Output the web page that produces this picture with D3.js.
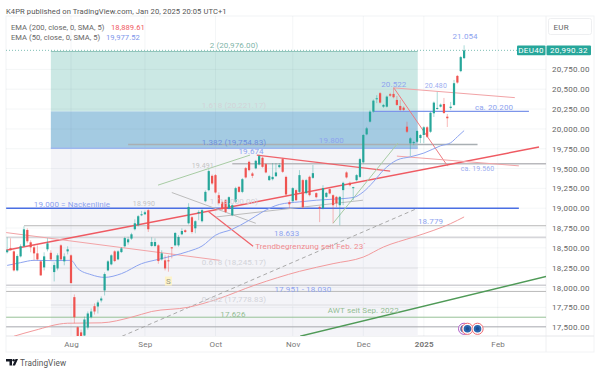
<!DOCTYPE html>
<html>
<head>
<meta charset="utf-8">
<script src="https://cdn.jsdelivr.net/npm/d3@7"></script>
<style>
html, body { margin: 0; padding: 0; background: #fff; }
svg { display: block; font-family: "Roboto", sans-serif; }
</style>
</head>
<body>
<div id="chart"></div>
<script>
// daily candles, first one is 19 bars before Aug 1
const firstBar = -19;
const opens = [18445,18495,18456,18216,18393,18520,18726,18570,18507,18431,18330,18254,18482,18438,18195,18241,18532,18330,18456,18406,17879,17500,17435,17395,17496,17626,17765,17761,17837,17963,18216,18292,18456,18355,18447,18520,18570,18617,18735,18785,18911,18924,18975,18524,18524,18532,18355,18343,18343,18507,18532,18532,18671,18722,18810,18886,18747,18937,18836,19088,19228,19408,19417,19164,19076,19101,19000,18911,19080,19269,19206,19505,19585,19438,19502,19552,19636,19556,19354,19366,19404,19518,19619,19395,19076,19088,19228,19206,19354,19190,19396,19383,19190,19016,19000,19143,19240,19164,19143,19038,19228,19451,19320,19253,19354,19395,19578,19931,20091,20217,20374,20450,20280,20280,20437,20441,20365,20289,20268,20028,19818,19821,19838,19885,19923,20020,19964,20197,20251,20280,20314,20154,20264,20302,20668,20728,20892];
const highs = [18633,18620,18469,18418,18545,18772,18747,18595,18532,18532,18340,18444,18621,18470,18317,18431,18545,18431,18520,18418,17913,17510,17470,17635,17698,17736,17800,17837,17888,18191,18345,18420,18470,18470,18510,18640,18640,18690,18860,18915,18966,18970,18990,18633,18620,18545,18470,18406,18406,18510,18700,18660,18747,18735,19063,18900,18848,18975,18990,19225,19491,19425,19430,19200,19095,19115,19150,19050,19270,19280,19380,19520,19600,19455,19610,19674,19650,19570,19420,19570,19570,19570,19635,19410,19100,19265,19240,19480,19370,19370,19410,19545,19200,19030,19290,19205,19250,19175,19155,19155,19335,19465,19335,19270,19430,19635,19935,20025,20235,20370,20425,20465,20315,20420,20455,20522,20415,20365,20285,20091,19895,19850,19985,19935,20035,20035,20215,20345,20466,20320,20390,20188,20340,20617,20680,20920,21054];
const lows = [18430,18470,18203,18203,18380,18510,18558,18444,18343,18343,18150,18216,18456,18343,18077,18216,18343,18280,18418,18052,17550,17360,17360,17330,17470,17610,17660,17673,17812,17900,18205,18280,18320,18345,18435,18505,18540,18600,18720,18770,18900,18915,18700,18515,18510,18300,18340,18216,18200,18368,18520,18515,18660,18690,18795,18680,18684,18848,18820,19075,19215,19295,19185,19050,18975,18940,18985,18900,19065,19195,19190,19375,19465,19380,19490,19540,19510,19440,19345,19350,19395,19505,19445,19150,19000,19075,19090,19190,18990,19175,19150,19370,19125,18825,18985,19130,19175,18810,19013,18785,19038,19375,19275,19100,19340,19380,19560,19920,20080,20205,20325,20320,20265,20270,20405,20385,20290,20225,20225,19948,19657,19795,19825,19820,19820,19885,19950,20150,20240,20270,20188,20024,20240,20290,20570,20715,20880];
const closes = [18470,18470,18216,18397,18520,18734,18583,18507,18431,18355,18153,18393,18557,18355,18283,18406,18355,18393,18482,18056,17626,17380,17380,17597,17673,17698,17698,17812,17862,18170,18330,18406,18334,18456,18494,18624,18608,18671,18810,18899,18924,18949,18735,18574,18574,18334,18431,18241,18330,18494,18688,18637,18713,18700,19016,18700,18836,18953,18975,19206,19468,19312,19198,19063,18996,18953,19139,19038,19253,19206,19366,19388,19480,19408,19598,19657,19522,19451,19404,19395,19451,19543,19459,19173,19050,19253,19101,19417,19013,19354,19165,19442,19139,18996,19253,19193,19186,19038,19063,19143,19320,19388,19290,19265,19417,19619,19923,20007,20217,20356,20386,20331,20302,20407,20419,20399,20302,20239,20239,19964,19881,19834,19973,19923,20020,19901,20204,20331,20264,20306,20201,20134,20280,20576,20584,20905,20990];

const ema50Bars = [-19,-15,-11,-5,0,2,6,10,15,21,26,30,35,39,43,48,53,57,62,68,73,78,84,87,90,93,97,101,105,110,113,115,117];
const ema50Values = [18279,18314,18343,18339,18343,18241,18162,18128,18175,18301,18355,18397,18456,18523,18659,18735,18848,18953,19047,19080,19101,19114,19135,19206,19332,19480,19607,19648,19695,19787,19825,19901,19978];
const ema200Bars = [-17,-11,-1,9,18,24,35,43,55,68,78,87,93,102,108,113,117];
const ema200Values = [17386,17458,17550,17555,17626,17698,17752,17846,18035,18204,18301,18384,18511,18637,18722,18806,18890];

const priceTicks = [17500,17750,18000,18250,18500,18750,19000,19250,19500,19750,20000,20250,20500,20750];
const timeBars = [0,22,43,66,87,105,127];
const timeLabels = ["Aug","Sep","Oct","Nov","Dec","2025","Feb"];

// [name, price, from bar, to bar]
const levels = [
  ["lvl19800",19803,17,121],
  ["lvl19560",19560,48,141.4],
  ["neck",19000,-19.3,133.3],
  ["lvl20200",20220,90.2,136.3],
  ["lvl18779",18779,-14,141.4],
  ["lvl18633",18633,-19.3,141.4],
  ["lvl18030",18030,-19.3,141.4],
  ["lvl17951",17951,-19.3,141.4],
  ["lvl17626",17626,-19.3,141.4],
  ["lvl17505",17505,-19.3,141.4]
];
// [name, bar, price, bar, price]
const trends = [
  ["redThick",-19.3,18469,139.3,19771],
  ["awt",68.2,17386,141.4,18140],
  ["red",55.3,19670,95,19468],
  ["red",40.8,18962,54.2,18520],
  ["redLight",-19.3,18693,44.3,18343],
  ["greenThin",25.9,19291,53.3,19670],
  ["grayThin",30,19198,55,18810],
  ["grayThin",43.2,18890,86.9,19101],
  ["greenThin",78,18810,97.3,19821],
  ["dashed",15.2,17386,103.2,19000],
  ["redMid",96.1,20517,112.1,19531],
  ["redLight",96.1,20517,132.1,20394],
  ["redLight",97,19657,133.3,19534]
];
const fibBars = [-6,103.2];
const fibBands = [["teal",20976,20221],["blue",20221,19755],["gray",19755,17250]];
const fibLines = [["fibFaint",18245],["fibFaint",17779]];
// [text, bar, price, style]
const labels = [
  ["2 (20,976.00)",48.5,21025,"fibTeal"],
  ["1.618 (20,221.17)",48.5,20268,"fibGray"],
  ["1.382 (19,754.83)",48.5,19796,"fibBlue"],
  ["1 (19,000.00)",48.5,19057,"fibGray"],
  ["0.618 (18,245.17)",48.5,18283,"fibGray"],
  ["0.382 (17,778.83)",48.5,17816,"fibGray"],
  ["19.800",77.5,19820,"blue"],
  ["ca. 19.560",121,19465,"blueSmall"],
  ["19.000 = Nackenlinie",0.3,19015,"blue"],
  ["ca. 20.200",125.9,20239,"blue"],
  ["18.779",107,18806,"blue"],
  ["18.633",64.2,18650,"blue"],
  ["17.951 - 18.030",69,17945,"blue"],
  ["17.626",48.2,17630,"green"],
  ["AWT seit Sep. 2022",87,17676,"green"],
  ["Trendbegrenzung seit Feb. 23´",71.3,18485,"red"],
  ["19.491",39.2,19505,"gray"],
  ["19.674",53.6,19678,"blue"],
  ["18.990",21.7,19030,"gray"],
  ["20.522",96.1,20533,"blue"],
  ["20.480",108.6,20519,"blueSmall"],
  ["21.054",117.3,21127,"blue"]
];
const lastPrice = 20990.32;
const ema200Last = "18,889.61";
const ema50Last = "19,977.52";
const eventBars = [117,118,121];

const width = 600, height = 374;
const plotL = 6, plotR = 546, plotT = 16, plotB = 336;

const x = d3.scaleLinear().domain([0,117]).range([71,464.1]);
const y = d3.scaleLinear().domain([17500,20750]).range([327.2,69.4]);

const fontS = {
  fibTeal: ["#7fb5a9", 8], fibGray: ["#d2d3d8", 8], fibBlue: ["#6d8fe0", 8],
  blue: ["#8ea3ef", 8], blueSmall: ["#9cadf0", 7], green: ["#93bd93", 8],
  red: ["#f08a8e", 8], gray: ["#c4c4c4", 7]
};
const lineS = {
  lvl19800: ["#a9afb3",1.5], lvl19560: ["#b9b9bd",1.6], neck: ["#4a6fe3",1.4], lvl20200: ["#7d95ea",1.2],
  lvl18779: ["#b7b7b7",1], lvl18633: ["#d6d6da",1.6], lvl18030: ["#b9b9c0",1], lvl17951: ["#b9b9b9",1],
  lvl17626: ["#96c196",1], lvl17505: ["#adadb3",1],
  redThick: ["#ef5a62",1.5], awt: ["#4f9a57",1.4], red: ["#ef636a",1.2], redMid: ["#ee7a80",1],
  redLight: ["#f2a3a6",1], greenThin: ["#a8cca4",1], grayThin: ["#bcbcbc",1], dashed: ["#aaaaaa",1],
  fibFaint: ["#e6e6ea",1.5]
};
const bandFill = { teal: "#cbe8e4", blue: "#a4cbe2", gray: "#f4f4f8" };

const svg = d3.select("#chart").append("svg").attr("width", width).attr("height", height);
svg.append("rect").attr("width", width).attr("height", height).attr("fill", "#fff");

svg.append("text").attr("x", 6).attr("y", 13.5).attr("font-size", 7.6).attr("letter-spacing", 0.08).attr("fill", "#555")
  .text("K4PR published on TradingView.com, Jan 20, 2025 20:05 UTC+1");

// frame
svg.append("rect").attr("x", plotL).attr("y", plotT).attr("width", 588).attr("height", 336)
  .attr("fill", "none").attr("stroke", "#f2f3f5");
svg.append("line").attr("x1", plotR).attr("x2", plotR).attr("y1", plotT).attr("y2", 352).attr("stroke", "#eff0f2");
svg.append("line").attr("x1", plotL).attr("x2", 594).attr("y1", plotB).attr("y2", plotB).attr("stroke", "#e6e7ea");

const defs = svg.append("defs");
defs.append("clipPath").attr("id", "plot").append("rect")
  .attr("x", plotL).attr("y", plotT).attr("width", plotR - plotL).attr("height", plotB - plotT);
const plot = svg.append("g").attr("clip-path", "url(#plot)");

// fib zones go under the grid
plot.selectAll(".band").data(fibBands).join("rect")
  .attr("x", x(fibBars[0])).attr("width", x(fibBars[1]) - x(fibBars[0]))
  .attr("y", d => y(d[1])).attr("height", d => y(d[2]) - y(d[1]))
  .attr("fill", d => bandFill[d[0]]);

plot.selectAll(".gridh").data(priceTicks).join("line")
  .attr("x1", plotL).attr("x2", plotR).attr("y1", d => y(d)).attr("y2", d => y(d))
  .attr("stroke", "#6a7a90").attr("stroke-opacity", 0.07);
plot.selectAll(".gridv").data(timeBars).join("line")
  .attr("x1", d => x(d)).attr("x2", d => x(d)).attr("y1", plotT).attr("y2", plotB)
  .attr("stroke", "#6a7a90").attr("stroke-opacity", 0.07);

plot.selectAll(".fib").data(fibLines).join("line")
  .attr("x1", x(fibBars[0])).attr("x2", x(fibBars[1])).attr("y1", d => y(d[1])).attr("y2", d => y(d[1]))
  .attr("stroke", d => lineS[d[0]][0]).attr("stroke-width", d => lineS[d[0]][1]);
plot.append("line").attr("x1", x(fibBars[0])).attr("x2", x(fibBars[1])).attr("y1", y(19755)).attr("y2", y(19755))
  .attr("stroke", "#9db7ee").attr("stroke-width", 1.5);
plot.append("line").attr("x1", x(fibBars[0])).attr("x2", x(fibBars[1])).attr("y1", y(20976)).attr("y2", y(20976))
  .attr("stroke", "#8fc4ba");

// last price line
plot.append("line").attr("x1", plotL).attr("x2", plotR).attr("y1", y(lastPrice)).attr("y2", y(lastPrice))
  .attr("stroke", "#7fbfb5").attr("stroke-dasharray", "1 2");

plot.selectAll(".level").data(levels).join("line")
  .attr("x1", d => x(d[2])).attr("x2", d => x(d[3])).attr("y1", d => y(d[1])).attr("y2", d => y(d[1]))
  .attr("stroke", d => lineS[d[0]][0]).attr("stroke-width", d => lineS[d[0]][1]);

plot.selectAll(".trend").data(trends).join("line")
  .attr("x1", d => x(d[1])).attr("y1", d => y(d[2])).attr("x2", d => x(d[3])).attr("y2", d => y(d[4]))
  .attr("stroke", d => lineS[d[0]][0])
  .attr("stroke-width", d => lineS[d[0]][1])
  .attr("stroke-dasharray", d => d[0] == "dashed" ? "4 3" : null);

const emaLine = d3.line().x(d => x(d[0])).y(d => y(d[1])).curve(d3.curveMonotoneX);
plot.append("path").attr("d", emaLine(d3.zip(ema200Bars, ema200Values)))
  .attr("fill", "none").attr("stroke", "#f29a9c").attr("stroke-width", 1);
plot.append("path").attr("d", emaLine(d3.zip(ema50Bars, ema50Values)))
  .attr("fill", "none").attr("stroke", "#8da4f0").attr("stroke-width", 1);

// candles
const candles = opens.map((o, i) => ({ bar: firstBar + i, o, h: highs[i], l: lows[i], c: closes[i] }));
const candleColor = d => d.c >= d.o ? "#26a69a" : "#ef5350";
const cg = plot.append("g").selectAll("g").data(candles).join("g");
cg.append("line")
  .attr("x1", d => x(d.bar)).attr("x2", d => x(d.bar)).attr("y1", d => y(d.h)).attr("y2", d => y(d.l))
  .attr("stroke", candleColor).attr("stroke-opacity", 0.5).attr("stroke-width", 0.8);
cg.append("rect")
  .attr("x", d => x(d.bar) - 1.1).attr("width", 2.2)
  .attr("y", d => y(Math.max(d.o, d.c))).attr("height", d => Math.max(1, Math.abs(y(d.o) - y(d.c))))
  .attr("fill", candleColor);

// texts on the chart
svg.append("g").selectAll("text").data(labels).join("text")
  .attr("x", d => x(d[1])).attr("y", d => y(d[2]))
  .attr("text-anchor", "middle")
  .attr("font-size", d => fontS[d[3]][1])
  .attr("letter-spacing", 0.1)
  .attr("fill", d => fontS[d[3]][0])
  .text(d => d[0]);

// S marker
const sg = svg.append("g").attr("transform", `translate(${x(29)},281)`);
sg.append("rect").attr("x", -3.5).attr("y", -4.5).attr("width", 7).attr("height", 9).attr("fill", "#fdf3c9");
sg.append("text").attr("text-anchor", "middle").attr("y", 2.8).attr("font-size", 8).attr("fill", "#9a9a8a").text("S");

// event icons
const ev = svg.append("g").selectAll("g").data(eventBars).join("g")
  .attr("transform", d => `translate(${x(d)},${y(17505) + 2})`);
ev.append("circle").attr("r", 5.6).attr("fill", "#fff").attr("stroke", (d, i) => i == 0 ? "#b05ec8" : "#ef6a72").attr("stroke-width", 1);
ev.append("circle").attr("r", 3.8).attr("fill", "#2a66ae");
ev.append("circle").attr("r", 1.7).attr("fill", "#1c4f92");

// axes
const yAxis = d3.axisRight(y).tickValues(priceTicks).tickSize(0).tickPadding(0).tickFormat(d3.format(",.2f"));
const ya = svg.append("g").attr("transform", `translate(552,0)`).call(yAxis);
ya.select(".domain").remove();
ya.selectAll("text").attr("font-size", 8).attr("font-family", "Roboto").attr("letter-spacing", 0.3).attr("fill", "#666");

const xAxis = d3.axisBottom(x).tickValues(timeBars).tickSize(0).tickPadding(0).tickFormat((d, i) => timeLabels[i]);
const xa = svg.append("g").attr("transform", `translate(0,${plotB + 5})`).call(xAxis);
xa.select(".domain").remove();
xa.selectAll("text").attr("font-size", 8).attr("font-family", "Roboto").attr("letter-spacing", 0.2).attr("fill", "#777")
  .attr("font-weight", (d, i) => timeLabels[i] == "2025" ? 700 : 400);

// legend
const legend = svg.append("g").attr("font-size", 7.6).attr("letter-spacing", 0.05);
legend.append("text").attr("x", 11).attr("y", 30).attr("fill", "#666").text("EMA (200, close, 0, SMA, 5)");
legend.append("text").attr("x", 111).attr("y", 30).attr("fill", "#ef5a62").text(ema200Last);
legend.append("text").attr("x", 11).attr("y", 40).attr("fill", "#666").text("EMA (50, close, 0, SMA, 5)");
legend.append("text").attr("x", 106).attr("y", 40).attr("fill", "#7d95ea").text(ema50Last);

// price badge and currency
const py = y(lastPrice);
svg.append("rect").attr("x", 517).attr("y", py - 4.8).attr("width", 28.5).attr("height", 9.6).attr("rx", 1).attr("fill", "#26a69a");
svg.append("rect").attr("x", 546.5).attr("y", py - 4.8).attr("width", 44.5).attr("height", 9.6).attr("rx", 1).attr("fill", "#26a69a");
svg.append("text").attr("x", 531).attr("y", py + 3).attr("text-anchor", "middle").attr("font-size", 8).attr("letter-spacing", 0.3).attr("fill", "#fff").text("DEU40");
svg.append("text").attr("x", 569).attr("y", py + 3).attr("text-anchor", "middle").attr("font-size", 8).attr("letter-spacing", 0.3).attr("fill", "#fff").text(d3.format(",.2f")(lastPrice));
svg.append("rect").attr("x", 548.5).attr("y", 18.5).attr("width", 43).attr("height", 16).attr("rx", 2).attr("fill", "#fff").attr("stroke", "#eeeff1");
svg.append("text").attr("x", 553.5).attr("y", 29.5).attr("font-size", 8).attr("letter-spacing", 0.2).attr("fill", "#666").text("EUR");

// footer logo
const logo = svg.append("g").attr("transform", "translate(6,359)").attr("fill", "#131722");
logo.append("path").attr("d", "M0 0H6V6.5H3.5V2.5H0Z");
logo.append("circle").attr("cx", 7.6).attr("cy", 1.3).attr("r", 1.2);
logo.append("path").attr("d", "M9.5 0H12L9 6.5H6.5Z");
svg.append("text").attr("x", 20).attr("y", 366).attr("font-size", 8.2).attr("letter-spacing", 0.1).attr("fill", "#555").text("TradingView");
</script>
</body>
</html>
